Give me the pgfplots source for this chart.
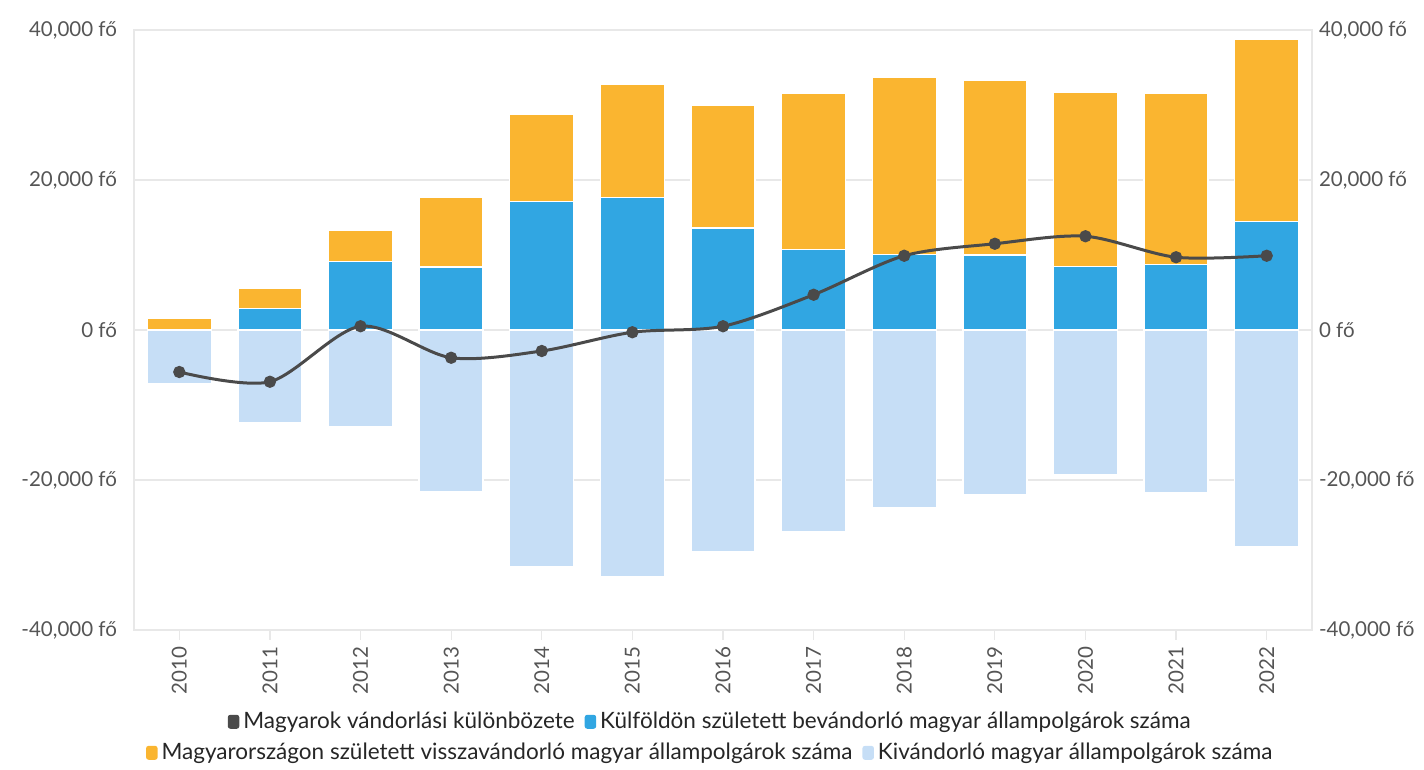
\documentclass[border=0pt]{standalone}
\usepackage{pgfplots}
\pgfplotsset{compat=1.18}
\usepackage{pgfplotstable}
\usepackage{fontspec}
\setmainfont{Lato}

\definecolor{narancs}{HTML}{FAB530}
\definecolor{kek}{HTML}{31A6E2}
\definecolor{halvany}{HTML}{C6DEF6}
\definecolor{vonal}{HTML}{4A4A4A}
\definecolor{racs}{HTML}{E8E8E8}
\definecolor{felirat}{HTML}{555555}

% ev, kulfoldon szuletett, itthon szuletett visszavandorlo, kivandorlo, kulonbozet
\pgfplotstableread{
x  ev   kulfold  vissza  kivand  kulonb
0  2010 0        1600    -7200   -5600
1  2011 2900     2600    -12400  -6900
2  2012 9100     4200    -12900  500
3  2013 8400     9300    -21600  -3700
4  2014 17100    11600   -31500  -2800
5  2015 17700    15000   -32900  -300
6  2016 13600    16300   -29500  500
7  2017 10700    20900   -26900  4700
8  2018 10100    23600   -23700  9900
9  2019 10000    23300   -21900  11500
10 2020 8500     23200   -19300  12500
11 2021 8700     22800   -21700  9700
12 2022 14500    24200   -28900  9900
}\adatok

\pgfplotsset{
  alap/.style={
    scale only axis, width=589bp, height=300bp,
    xmin=-0.5, xmax=12.5, ymin=-40000, ymax=40000,
    ytick={-40000,-20000,0,20000,40000},
    scaled y ticks=false,
    /pgf/number format/.cd, 1000 sep={,}, assume math mode=true, /pgfplots/.cd,
    yticklabel={\pgfmathprintnumber{\tick}~fő},
    ticklabel style={font=\fontsize{10.3}{12}\selectfont, text=felirat},
    ytick style={draw=none},
    legend image code/.code={\fill[##1, draw=none, rounded corners=1.3bp] (0bp,-3.4bp) rectangle (5.8bp,3.6bp);},
    legend style={draw=none, fill=none, legend columns=-1,
      font=\fontsize{11.3}{13}\selectfont, text=black!85,
      /tikz/every even column/.append style={column sep=3bp}},
  },
  oszlop/.style={ybar, bar width=32bp, bar shift=0pt, draw=white, line width=0.7bp, forget plot},
}

\begin{document}
\begin{tikzpicture}
\useasboundingbox (-67bp,-70bp) rectangle (645bp,315bp);
\begin{axis}[alap,
  axis line style={draw=racs, line width=0.6bp},
  ymajorgrids, grid style={draw=racs, line width=0.6bp},
  xtick={0,...,12},
  xticklabels={2010,2011,2012,2013,2014,2015,2016,2017,2018,2019,2020,2021,2022},
  xtick pos=bottom, ytick pos=left, tick align=outside,
  xtick style={draw=racs, line width=0.6bp}, major tick length=5bp,
  xticklabel style={rotate=90, anchor=east},
  legend style={at={(0.49,-0.1533)}, anchor=center},
]
\addplot[oszlop, fill=narancs] table[x=x, y expr=\thisrow{kulfold}+\thisrow{vissza}]{\adatok};
\addplot[oszlop, fill=kek] table[x=x, y=kulfold]{\adatok};
\addplot[oszlop, fill=halvany] table[x=x, y=kivand]{\adatok};
\addplot[vonal, line width=1.5bp, smooth, mark=*, mark size=2.3bp,
  mark options={fill=vonal, draw=vonal}, forget plot] table[x=x, y=kulonb]{\adatok};
\addlegendimage{fill=vonal}
\addlegendentry{Magyarok vándorlási különbözete}
\addlegendimage{fill=kek}
\addlegendentry{Külföldön született bevándorló magyar állampolgárok száma}
\end{axis}
\begin{axis}[alap,
  axis x line=none, axis y line*=right,
  y axis line style={draw=none},
  legend style={at={(0.49,-0.205)}, anchor=center},
]
\addlegendimage{fill=narancs}
\addlegendentry{Magyarországon született visszavándorló magyar állampolgárok száma}
\addlegendimage{fill=halvany}
\addlegendentry{Kivándorló magyar állampolgárok száma}
\end{axis}
\end{tikzpicture}
\end{document}
